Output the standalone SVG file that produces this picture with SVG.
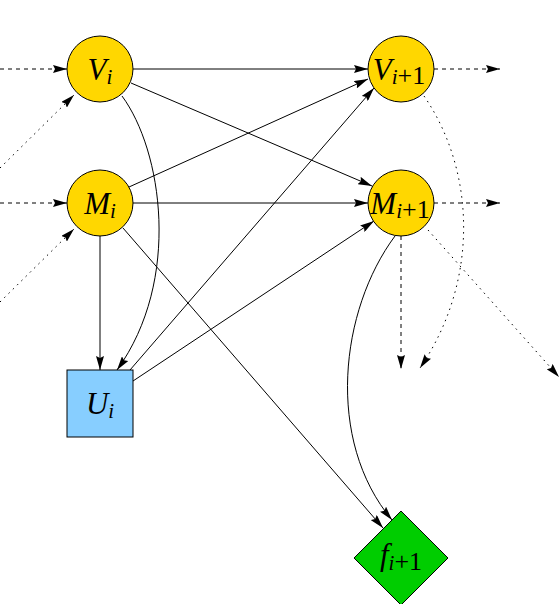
<svg xmlns="http://www.w3.org/2000/svg" width="560" height="604" viewBox="0 0 560 604">
<style>
.node{fill:#FFD700;stroke:#000;stroke-width:1}
.box{fill:#87CEFF;stroke:#000;stroke-width:1}
.dia{fill:#00CD00;stroke:#000;stroke-width:1}
.lbl{font-family:"Liberation Serif","DejaVu Serif",serif;font-style:italic;font-size:31px;fill:#000}
.sub{font-size:21px}
.up{font-style:normal}
.e{fill:none;stroke:#000;stroke-width:1;marker-end:url(#ah)}
.dash{stroke-dasharray:4,4}
.dot{stroke-dasharray:1.5,4.5}
</style>
<defs>
<marker id="ah" viewBox="0 0 14 8" refX="14" refY="4" markerWidth="14" markerHeight="8" markerUnits="userSpaceOnUse" orient="auto">
<path d="M0,0 L14,4 L0,8 L2,4 z" fill="#000"/>
</marker>
</defs>
<g id="connectors">
<line class="e dash" x1="0" y1="69" x2="67" y2="69"/>
<line class="e dot" x1="0" y1="168" x2="74" y2="95"/>
<line class="e dash" x1="0" y1="203" x2="67" y2="203"/>
<line class="e dot" x1="0" y1="302" x2="74" y2="229"/>
<line class="e" x1="133" y1="69" x2="368" y2="69"/>
<line class="e" x1="131" y1="83" x2="372" y2="186"/>
<path class="e" d="M122,96 C162,150 182,280 117,370"/>
<line class="e" x1="129" y1="187" x2="368" y2="79"/>
<line class="e" x1="133" y1="203" x2="368" y2="203"/>
<line class="e" x1="100" y1="236" x2="100" y2="370"/>
<line class="e" x1="123" y1="228" x2="383" y2="528"/>
<line class="e" x1="130" y1="370" x2="374" y2="88"/>
<line class="e" x1="133" y1="381" x2="374" y2="221"/>
<path class="e" d="M395,236 C340,310 325,440 392,520"/>
<line class="e dash" x1="434" y1="69" x2="500" y2="69"/>
<line class="e dash" x1="434" y1="203" x2="500" y2="203"/>
<line class="e dash" x1="401" y1="236" x2="401" y2="369"/>
<line class="e dot" x1="428" y1="230" x2="559" y2="377"/>
<path class="e dot" d="M424,96 C475,170 480,280 420,368"/>
</g>
<g id="Vi">
<circle class="node" cx="100" cy="69" r="33"/>
<text class="lbl" x="100" y="80" text-anchor="middle">V<tspan class="sub" dy="4">i</tspan></text>
</g>
<g id="Mi">
<circle class="node" cx="100" cy="203" r="33"/>
<text class="lbl" x="100" y="214" text-anchor="middle">M<tspan class="sub" dy="4">i</tspan></text>
</g>
<g id="Vi1">
<circle class="node" cx="401" cy="69" r="33"/>
<text class="lbl" x="399" y="80" text-anchor="middle">V<tspan class="sub" dy="4">i</tspan><tspan class="up" font-size="26" dy="0">+1</tspan></text>
</g>
<g id="Mi1">
<circle class="node" cx="401" cy="203" r="33"/>
<text class="lbl" x="400" y="214" text-anchor="middle">M<tspan class="sub" dy="4">i</tspan><tspan class="up" font-size="26" dy="0">+1</tspan></text>
</g>
<g id="Ui">
<rect class="box" x="67" y="370" width="66" height="67"/>
<text class="lbl" x="100" y="414" text-anchor="middle">U<tspan class="sub" dy="4">i</tspan></text>
</g>
<g id="fi1">
<polygon class="dia" points="401,511 448,558 401,605 354,558"/>
<text class="lbl" x="401" y="565" text-anchor="middle">f<tspan class="sub" dy="5">i</tspan><tspan class="up" font-size="26" dy="0">+1</tspan></text>
</g>
</svg>
